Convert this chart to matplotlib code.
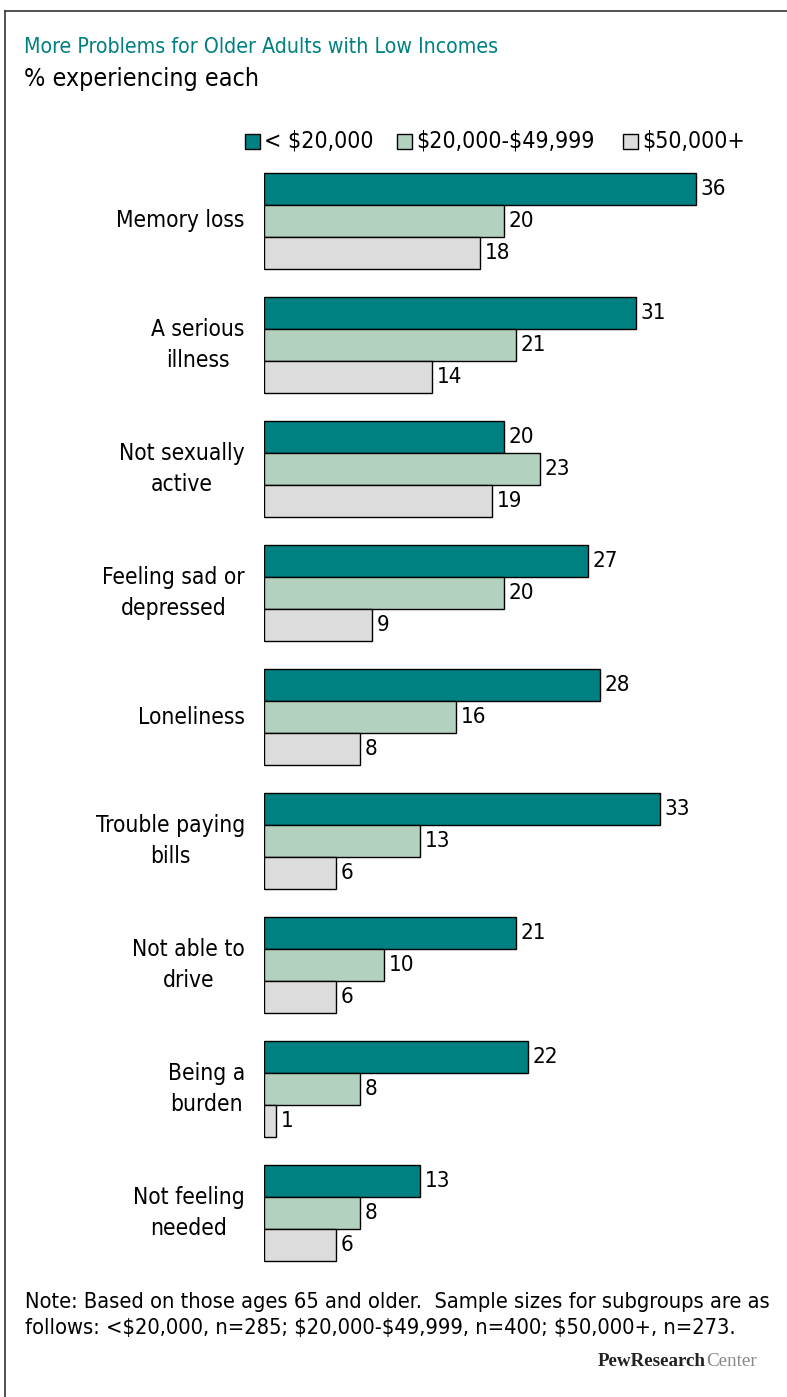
import numpy as np
import matplotlib.pyplot as plt
from matplotlib.patches import Rectangle
from matplotlib.lines import Line2D

plt.rcParams['text.parse_math'] = False
plt.rcParams['font.family'] = ['DejaVu Sans']
plt.rcParams['font.stretch'] = 'condensed'

# data
categories = ["Memory loss", "A serious\nillness", "Not sexually\nactive",
              "Feeling sad or\ndepressed", "Loneliness", "Trouble paying\nbills",
              "Not able to\ndrive", "Being a\nburden", "Not feeling\nneeded"]
low_income = [36, 31, 20, 27, 28, 33, 21, 22, 13]
mid_income = [20, 21, 23, 20, 16, 13, 10, 8, 8]
high_income = [18, 14, 19, 9, 8, 6, 6, 1, 6]
series_names = ["< $20,000", "$20,000-$49,999", "$50,000+"]
colors = ["#008080", "#b3d1bf", "#dcdcdc"]

W, H = 787, 1397
fig = plt.figure(figsize=(W / 100, H / 100), dpi=100)

def fx(x):
    return x / W

def fy(y):
    return 1 - y / H

# frame around the chart (left and top visible)
fig.add_artist(Line2D([fx(5), fx(5)], [fy(11), fy(H + 5)], color="#333333", lw=1.2))
fig.add_artist(Line2D([fx(5), fx(W + 5)], [fy(11), fy(11)], color="#333333", lw=1.2))

fig.text(fx(24), fy(47), "More Problems for Older Adults with Low Incomes",
         color="#008080", fontsize=15.3, va="center", ha="left")
fig.text(fx(24), fy(79), "% experiencing each", color="black",
         fontsize=18, va="center", ha="left")

# axes: left at 264 px, 12 px per point
top, bottom = 160, 1280
ax = fig.add_axes([fx(264), fy(bottom), 480 / W, (bottom - top) / H])
ax.set_xlim(0, 40)
group_px = 124
y0 = 221
ax.set_ylim((bottom - y0) / group_px, (top - y0) / group_px)
ax.axis("off")

y = np.arange(len(categories))
h = 32 / group_px
for k, (vals, c) in enumerate(zip([low_income, mid_income, high_income], colors)):
    ypos = y + (k - 1) * h
    ax.barh(ypos, vals, height=h, color=c, edgecolor="black", linewidth=1.0)
    for yy, v in zip(ypos, vals):
        ax.text(v + 0.4, yy, str(v), va="center", ha="left", fontsize=16)

for yy, lab in zip(y, categories):
    ax.text(-1.6, yy, lab, va="center", ha="right", multialignment="center",
            fontsize=16.3, linespacing=1.4)

# legend
leg_x = [245, 397, 623]
for lx, name, c in zip(leg_x, series_names, colors):
    fig.add_artist(Rectangle((fx(lx), fy(149)), 15 / W, 15 / H, facecolor=c,
                             edgecolor="black", lw=1.0, transform=fig.transFigure))
    fig.text(fx(lx + 19), fy(141), name, fontsize=16.6, va="center", ha="left")

note_lines = ["Note: Based on those ages 65 and older.  Sample sizes for subgroups are as",
              "follows: <$20,000, n=285; $20,000-$49,999, n=400; $50,000+, n=273."]
for i, line in enumerate(note_lines):
    fig.text(fx(25), fy(1302 + 26 * i), line, fontsize=15.7, va="center", ha="left")

fig.text(fx(706), fy(1362), "PewResearch", fontsize=13.7, ha="right", va="center",
         family="Liberation Serif", fontweight="bold", color="#222222")
fig.text(fx(706), fy(1362), "Center", fontsize=13.7, ha="left", va="center",
         family="Liberation Serif", color="#888888")

fig.savefig("out.png", dpi=100, facecolor="white")
